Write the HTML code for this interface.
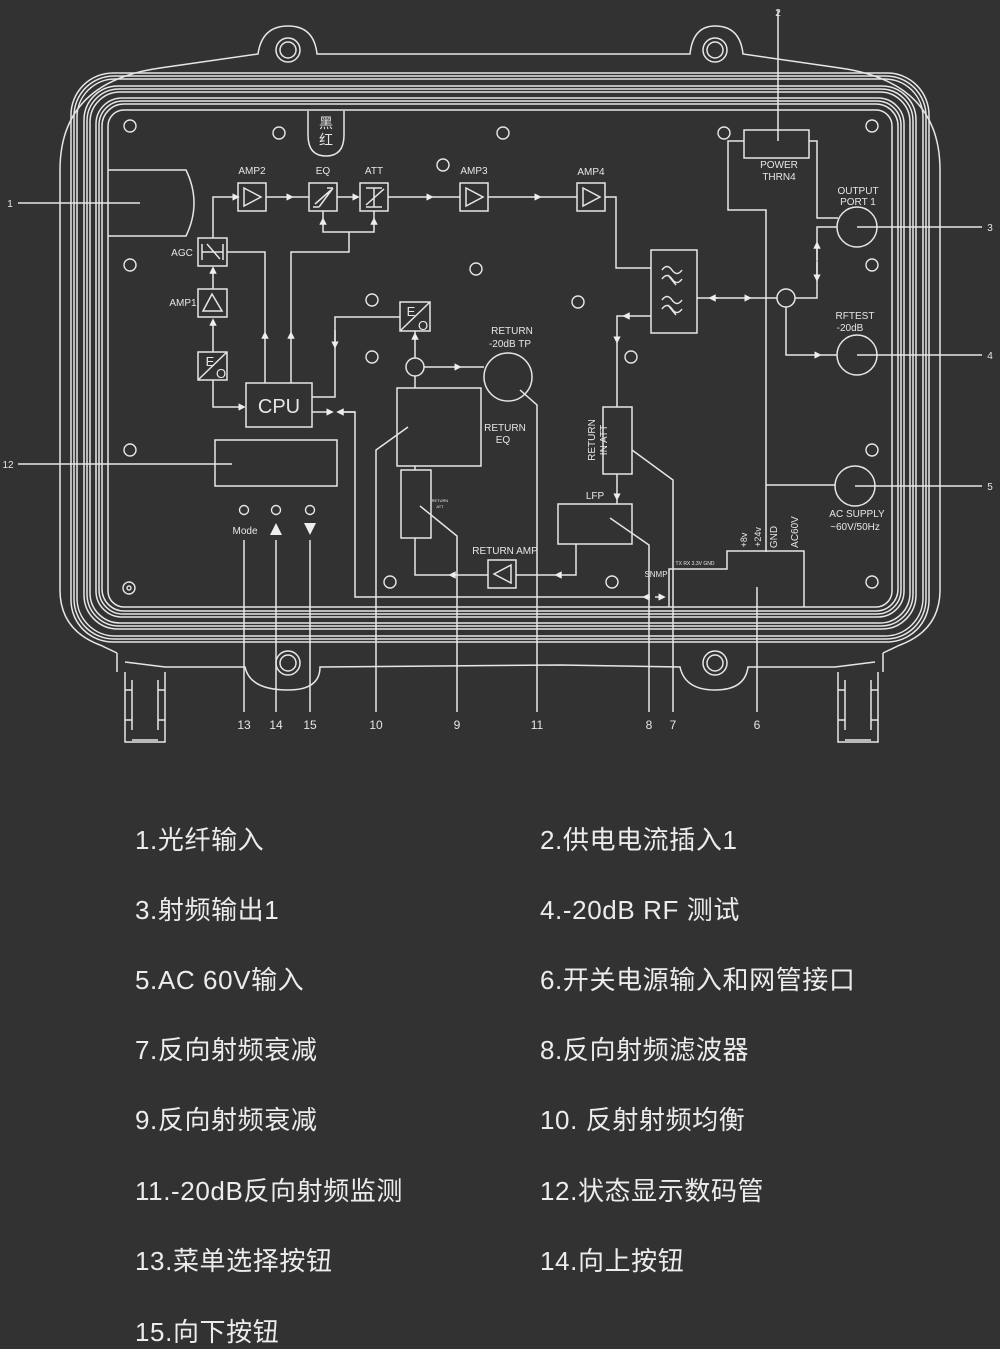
<!DOCTYPE html>
<html><head><meta charset="utf-8"><style>
html,body{margin:0;padding:0;background:#323232;}
body{width:1000px;height:1349px;position:relative;overflow:hidden;font-family:"Liberation Sans","Noto Sans CJK SC",sans-serif;}
svg{position:absolute;left:0;top:0;}
.l{position:absolute;color:#ececec;font-size:26px;letter-spacing:0.6px;white-space:nowrap;font-family:"Liberation Sans","Noto Sans CJK SC",sans-serif;}
</style></head><body>
<svg width="1000" height="760" viewBox="0 0 1000 760" font-family="Liberation Sans, sans-serif">
<defs>
<marker id="a" viewBox="0 0 10 10" refX="5" refY="5" markerWidth="5" markerHeight="5" orient="auto"><path d="M0,0L10,5L0,10z" fill="#eee"/></marker>
</defs>
<g fill="none" stroke="#e6e6e6" stroke-width="1.5">
<path d="M117,653 L100,645 Q60,630 60,590 L60,170 Q60,82 160,68 L258,54 Q262,26 288,26 Q314,26 317,54 L690,54 Q693,26 715,26 Q740,26 743,54 L840,68 Q940,82 940,170 L940,590 Q940,630 900,645 L883,653"/>
<path d="M125,662 L165,667 L245,667 Q250,690 288,690 Q320,690 320,667 L560,665 L680,667 Q685,690 715,690 Q745,690 748,667 L835,667 L875,662"/>
<rect x="71" y="73" width="858" height="569" rx="42"/>
<rect x="74" y="76" width="852" height="563" rx="40"/>
<rect x="77" y="79" width="846" height="557" rx="38"/>
<rect x="84" y="86" width="832" height="543" rx="34"/>
<rect x="87" y="89" width="826" height="537" rx="32"/>
<rect x="90" y="92" width="820" height="531" rx="30"/>
<rect x="96" y="98" width="808" height="519" rx="26"/>
<rect x="99" y="101" width="802" height="513" rx="24"/>
<rect x="102" y="104" width="796" height="507" rx="22"/>
<rect x="108" y="110" width="784" height="497" rx="16"/>
<circle cx="288" cy="50" r="12"/><circle cx="288" cy="50" r="8"/>
<circle cx="715" cy="50" r="12"/><circle cx="715" cy="50" r="8"/>
<circle cx="288" cy="663" r="12"/><circle cx="288" cy="663" r="8"/>
<circle cx="715" cy="663" r="12"/><circle cx="715" cy="663" r="8"/>
<path d="M117,653 L117,672 M125,672 L125,742 L165,742 L165,672 M132,680 L132,730 M158,680 L158,730 M125,690 L132,690 M125,720 L132,720 M158,690 L165,690 M158,720 L165,720 M132,740 L158,740"/>
<path d="M883,653 L883,672 M838,672 L838,742 L878,742 L878,672 M845,680 L845,730 M871,680 L871,730 M838,690 L845,690 M838,720 L845,720 M871,690 L878,690 M871,720 L878,720 M845,740 L871,740"/>
<g stroke-width="1.4">
<circle cx="130" cy="126" r="6"/><circle cx="279" cy="133" r="6"/><circle cx="443" cy="165" r="6"/><circle cx="503" cy="133" r="6"/><circle cx="724" cy="133" r="6"/><circle cx="872" cy="126" r="6"/>
<circle cx="130" cy="265" r="6"/><circle cx="372" cy="300" r="6"/><circle cx="476" cy="269" r="6"/><circle cx="578" cy="302" r="6"/><circle cx="872" cy="265" r="6"/>
<circle cx="372" cy="357" r="6"/><circle cx="631" cy="357" r="6"/>
<circle cx="130" cy="450" r="6"/><circle cx="872" cy="450" r="6"/>
<circle cx="390" cy="582" r="6"/><circle cx="612" cy="582" r="6"/><circle cx="872" cy="582" r="6"/>
<circle cx="129" cy="588" r="6"/><circle cx="129" cy="588" r="2"/>
<circle cx="244" cy="510" r="4.5"/><circle cx="276" cy="510" r="4.5"/><circle cx="310" cy="510" r="4.5"/>
</g>
<path d="M308,111 L308,135 Q308,156 326,156 Q344,156 344,135 L344,111"/>
<path d="M108,170 L186,170 Q202,203 186,236 L108,236"/>
<rect x="238" y="183" width="28" height="28"/><path d="M244,188 L261,197 L244,206Z"/>
<rect x="309" y="183" width="28" height="28"/><path d="M315,204 L331,190 M313,207 L319,207 M327,188 L333,188 M319,207 L333,188"/>
<rect x="360" y="183" width="28" height="28"/><path d="M366,188 L382,188 M366,207 L382,207 M374,188 L374,207 M366,205 L384,189"/>
<rect x="460" y="183" width="28" height="28"/><path d="M466,188 L483,197 L466,206Z"/>
<rect x="577" y="183" width="28" height="28"/><path d="M583,188 L600,197 L583,206Z"/>
<rect x="198" y="238" width="29" height="28"/><path d="M202,244 L202,260 M223,244 L223,260 M202,252 L223,252 M207,244 L220,259"/>
<rect x="198" y="289" width="29" height="28"/><path d="M203,311 L212,294 L222,311Z"/>
<rect x="198" y="352" width="29" height="28"/><path d="M198,380 L227,352"/>
<rect x="400" y="302" width="30" height="29"/><path d="M400,331 L430,302"/>
<rect x="246" y="383" width="66" height="44"/>
<rect x="215" y="440" width="122" height="46"/>
<rect x="651" y="250" width="46" height="83"/>
<path d="M662,270 Q667,263 672,270 Q677,277 682,270 M662,279 Q667,272 672,279 Q677,286 682,279 M668,275 L676,285"/>
<path d="M662,300 Q667,293 672,300 Q677,307 682,300 M662,309 Q667,302 672,309 Q677,316 682,309 M668,305 L676,315"/>
<rect x="744" y="130" width="65" height="28"/>
<circle cx="857" cy="227" r="20"/><circle cx="857" cy="355" r="20"/><circle cx="855" cy="486" r="20"/>
<circle cx="786" cy="298" r="9"/><circle cx="415" cy="367" r="9"/>
<circle cx="508" cy="377" r="24"/>
<rect x="397" y="388" width="84" height="78"/>
<rect x="401" y="470" width="30" height="68"/>
<rect x="603" y="407" width="29" height="67"/>
<rect x="558" y="504" width="74" height="40"/>
<rect x="488" y="560" width="28" height="28"/><path d="M511,565 L494,574 L511,583Z"/>
<path d="M213,238 L213,197 L236,197" marker-end="url(#a)"/>
<path d="M266,197 L290,197" marker-end="url(#a)"/><path d="M290,197 L309,197"/>
<path d="M337,197 L356,197" marker-end="url(#a)"/>
<path d="M388,197 L430,197" marker-end="url(#a)"/><path d="M430,197 L460,197"/>
<path d="M488,197 L538,197" marker-end="url(#a)"/><path d="M538,197 L577,197"/>
<path d="M605,197 L616,197 L616,268 L651,268"/>
<path d="M213,289 L213,270" marker-end="url(#a)"/>
<path d="M213,352 L213,322" marker-end="url(#a)"/>
<path d="M213,380 L213,407 L242,407" marker-end="url(#a)"/>
<path d="M265,383 L265,335" marker-end="url(#a)"/><path d="M265,335 L265,252 L227,252"/>
<path d="M291,383 L291,335" marker-end="url(#a)"/><path d="M291,335 L291,252 L349,252 L349,232 L323,232 L323,221" marker-end="url(#a)"/>
<path d="M323,221 L323,211 M349,232 L374,232 L374,221" marker-end="url(#a)"/><path d="M374,221 L374,211"/>
<path d="M312,397 L335,397 L335,317 L400,317"/><path d="M335,330 L335,345" marker-end="url(#a)"/>
<path d="M415,388 L415,376 M415,358 L415,336" marker-end="url(#a)"/><path d="M415,336 L415,331"/>
<path d="M424,367 L458,367" marker-end="url(#a)"/><path d="M458,367 L484,367"/>
<path d="M697,298 L718,298" /><path d="M730,298 L712,298" marker-end="url(#a)"/><path d="M730,298 L748,298" marker-end="url(#a)"/><path d="M748,298 L777,298 M795,298 L817,298 L817,227 L837,227"/>
<path d="M817,260 L817,245" marker-end="url(#a)"/><path d="M817,262 L817,278" marker-end="url(#a)"/>
<path d="M786,307 L786,355 L818,355" marker-end="url(#a)"/><path d="M818,355 L837,355"/>
<path d="M744,141 L728,141 L728,210 L766,210 L766,552"/>
<path d="M809,141 L817,141 L817,218 L838,218"/>
<path d="M766,485 L835,485"/>
<path d="M651,316 L626,316" marker-end="url(#a)"/><path d="M626,316 L617,316 L617,340" marker-end="url(#a)"/><path d="M617,340 L617,407"/>
<path d="M617,474 L617,497" marker-end="url(#a)"/><path d="M617,497 L617,504"/>
<path d="M576,544 L576,575 L558,575" marker-end="url(#a)"/><path d="M558,575 L516,575"/>
<path d="M488,575 L452,575" marker-end="url(#a)"/><path d="M452,575 L415,575 L415,538 M415,470 L415,466"/>
<path d="M312,412 L330,412" marker-end="url(#a)"/><path d="M355,412 L340,412" marker-end="url(#a)"/><path d="M340,412 L355,412 L355,597 L650,597"/>
<path d="M650,597 L646,597" marker-end="url(#a)"/><path d="M655,597 L662,597" marker-end="url(#a)"/>
<path d="M669,607 L669,569 L727,569 L727,551 L804,551 L804,607"/>
<path d="M18,203 L140,203 M18,464 L232,464 M857,227 L982,227 M857,355 L982,355 M855,486 L982,486 M778,10 L778,141"/>
<path d="M244,540 L244,712 M276,540 L276,712 M310,540 L310,712"/>
<path d="M408,427 L376,450 L376,712 M420,506 L457,536 L457,712 M520,390 L537,405 L537,712 M610,518 L649,545 L649,712 M632,450 L673,480 L673,712 M757,587 L757,712"/>
</g>
<g fill="#eee">
<path d="M304,523 L316,523 L310,535Z"/>
<path d="M270,535 L282,535 L276,523Z"/>
</g>
<g fill="#e6e6e6" font-size="10" text-anchor="middle">
<text x="252" y="174">AMP2</text><text x="323" y="174">EQ</text><text x="374" y="174">ATT</text>
<text x="474" y="174">AMP3</text><text x="591" y="175">AMP4</text>
<text x="182" y="256">AGC</text><text x="183" y="306">AMP1</text>
<text x="779" y="168">POWER</text><text x="779" y="180">THRN4</text>
<text x="858" y="194">OUTPUT</text><text x="858" y="205">PORT 1</text>
<text x="855" y="319">RFTEST</text><text x="850" y="331">-20dB</text>
<text x="512" y="334">RETURN</text><text x="510" y="347">-20dB   TP</text>
<text x="505" y="431">RETURN</text><text x="503" y="443">EQ</text>
<text x="595" y="499">LFP</text><text x="505" y="554">RETURN AMP</text>
<text x="857" y="517">AC SUPPLY</text><text x="855" y="530">~60V/50Hz</text>
<text x="245" y="534">Mode</text><text x="656" y="577" font-size="8">SNMP</text>
<text x="210" y="366" font-size="13">E</text><text x="221" y="378" font-size="13">O</text>
<text x="411" y="316" font-size="13">E</text><text x="423" y="330" font-size="13">O</text>
<text x="279" y="413" font-size="20">CPU</text>
<text x="326" y="128" font-size="14" font-family="Noto Sans CJK SC, sans-serif">黑</text>
<text x="326" y="145" font-size="14" font-family="Noto Sans CJK SC, sans-serif">红</text>
<text x="595" y="440" transform="rotate(-90 595 440)">RETURN</text>
<text x="607" y="440" transform="rotate(-90 607 440)">IN ATT</text>
<text x="747" y="540" font-size="9" transform="rotate(-90 747 540)">+8v</text>
<text x="761" y="537" font-size="9" transform="rotate(-90 761 537)">+24v</text>
<text x="777" y="537" font-size="10" transform="rotate(-90 777 537)">GND</text>
<text x="798" y="532" font-size="10" transform="rotate(-90 798 532)">AC60V</text>
<text x="695" y="565" font-size="5">TX  RX  3.3V   GND</text>
<text x="440" y="502" font-size="4">RETURN</text><text x="440" y="508" font-size="4">ATT</text>
<text x="778" y="16">2</text><text x="10" y="207">1</text><text x="8" y="468">12</text>
<text x="990" y="231">3</text><text x="990" y="359">4</text><text x="990" y="490">5</text>
<g font-size="12"><text x="244" y="729">13</text><text x="276" y="729">14</text><text x="310" y="729">15</text><text x="376" y="729">10</text><text x="457" y="729">9</text><text x="537" y="729">11</text><text x="649" y="729">8</text><text x="673" y="729">7</text><text x="757" y="729">6</text></g>
</g>
</svg>
<div class="l" style="left:135px;top:820px">1.光纤输入</div>
<div class="l" style="left:540px;top:820px">2.供电电流插入1</div>
<div class="l" style="left:135px;top:890px">3.射频输出1</div>
<div class="l" style="left:540px;top:890px">4.-20dB RF 测试</div>
<div class="l" style="left:135px;top:960px">5.AC 60V输入</div>
<div class="l" style="left:540px;top:960px">6.开关电源输入和网管接口</div>
<div class="l" style="left:135px;top:1030px">7.反向射频衰减</div>
<div class="l" style="left:540px;top:1030px">8.反向射频滤波器</div>
<div class="l" style="left:135px;top:1100px">9.反向射频衰减</div>
<div class="l" style="left:540px;top:1100px">10. 反射射频均衡</div>
<div class="l" style="left:135px;top:1171px">11.-20dB反向射频监测</div>
<div class="l" style="left:540px;top:1171px">12.状态显示数码管</div>
<div class="l" style="left:135px;top:1241px">13.菜单选择按钮</div>
<div class="l" style="left:540px;top:1241px">14.向上按钮</div>
<div class="l" style="left:135px;top:1312px">15.向下按钮</div>
</body></html>
